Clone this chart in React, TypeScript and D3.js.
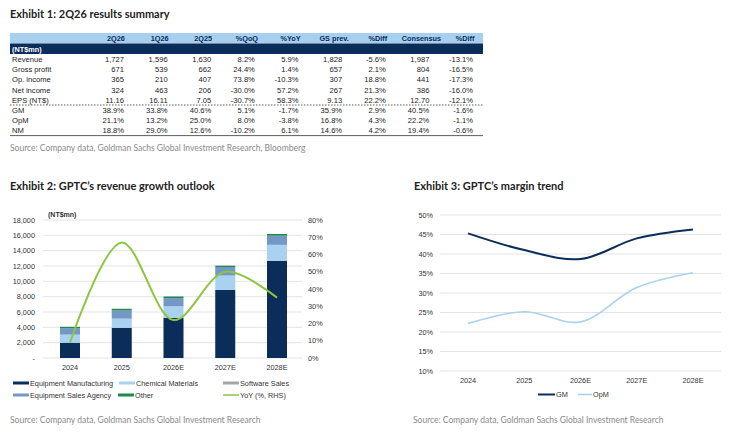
import React from 'react';
import * as d3 from 'd3';

// ---- Exhibit 1 table ----
const tableCols = ['2Q26', '1Q26', '2Q25', '%QoQ', '%YoY', 'GS prev.', '%Diff', 'Consensus', '%Diff'];
const rowLabels = ['Revenue', 'Gross profit', 'Op. income', 'Net income', 'EPS (NT$)', 'GM', 'OpM', 'NM'];
const rowValues = [
  ['1,727', '1,596', '1,630', '8.2%', '5.9%', '1,828', '-5.6%', '1,987', '-13.1%'],
  ['671', '539', '662', '24.4%', '1.4%', '657', '2.1%', '804', '-16.5%'],
  ['365', '210', '407', '73.8%', '-10.3%', '307', '18.8%', '441', '-17.3%'],
  ['324', '463', '206', '-30.0%', '57.2%', '267', '21.3%', '386', '-16.0%'],
  ['11.16', '16.11', '7.05', '-30.7%', '58.3%', '9.13', '22.2%', '12.70', '-12.1%'],
  ['38.9%', '33.8%', '40.6%', '5.1%', '-1.7%', '35.9%', '2.9%', '40.5%', '-1.6%'],
  ['21.1%', '13.2%', '25.0%', '8.0%', '-3.8%', '16.8%', '4.3%', '22.2%', '-1.1%'],
  ['18.8%', '29.0%', '12.6%', '-10.2%', '6.1%', '14.6%', '4.2%', '19.4%', '-0.6%'],
];

// ---- Exhibit 2 ----
const years = ['2024', '2025', '2026E', '2027E', '2028E'];
const equipMfg = [1990, 3940, 5240, 8870, 12690];
const chemMat = [1040, 1170, 1480, 1870, 2050];
const softwareSales = [20, 20, 20, 20, 20];
const salesAgency = [840, 1070, 1060, 1110, 1200];
const other = [180, 220, 220, 170, 220];
const yoy = [9, 67, 22, 50, 35];
const revTicks = [0, 2000, 4000, 6000, 8000, 10000, 12000, 14000, 16000, 18000];
const pctTicks = [0, 10, 20, 30, 40, 50, 60, 70, 80];

// ---- Exhibit 3 ----
const gm = [45.3, 41.0, 38.7, 44.0, 46.3];
const opm = [22.2, 25.2, 22.6, 31.4, 35.2];
const marginTicks = [10, 15, 20, 25, 30, 35, 40, 45, 50];

const C = {
  navy: '#0b2d59',
  light: '#a8d2f0',
  gray: '#a6a6a6',
  mid: '#7397c6',
  green: '#1b8a4a',
  lime: '#8cc63f',
  grid: '#dcdcdc',
  text: '#333',
  src: '#8a8a8a',
};

const arial = 'Liberation Sans, Arial, sans-serif';
const humanist = 'Lato, "Open Sans", sans-serif';

const segKeys = ['mfg', 'chem', 'soft', 'agency', 'other'];
const segColors: Record<string, string> = {
  mfg: C.navy,
  chem: C.light,
  soft: C.gray,
  agency: C.mid,
  other: C.green,
};

const App: React.FC = () => {
  // table scales
  const colRight = d3.scalePoint<number>().domain(d3.range(tableCols.length)).range([124, 473]);
  const rowY = d3.scaleLinear().domain([0, 8]).range([54, 135.6]);
  const rowH = rowY(1) - rowY(0);

  // exhibit 2 scales
  const x2 = d3.scalePoint<string>().domain(years).range([70, 277]);
  const yRev = d3.scaleLinear().domain([0, 18000]).range([358, 220]);
  const yPct = d3.scaleLinear().domain([0, 80]).range([358, 220]);
  const barW = 20;

  const stackData = years.map((y, i) => ({
    year: y,
    mfg: equipMfg[i],
    chem: chemMat[i],
    soft: softwareSales[i],
    agency: salesAgency[i],
    other: other[i],
  }));
  const series = d3.stack<any>().keys(segKeys)(stackData);

  const yoyLine = d3
    .line<number>()
    .x((_, i) => x2(years[i]) as number)
    .y(d => yPct(d))
    .curve(d3.curveCatmullRom.alpha(0.5));

  // exhibit 3 scales
  const x3 = d3.scalePoint<string>().domain(years).range([468, 693]);
  const yM = d3.scaleLinear().domain([10, 50]).range([371, 215]);
  const mLine = d3
    .line<number>()
    .x((_, i) => x3(years[i]) as number)
    .y(d => yM(d))
    .curve(d3.curveCatmullRom.alpha(0.5));

  const legend2 = [
    { label: 'Equipment Manufacturing', color: C.navy, x: 13, y: 383, thin: false },
    { label: 'Chemical Materials', color: C.light, x: 119, y: 383, thin: false },
    { label: 'Software Sales', color: C.gray, x: 223, y: 383, thin: false },
    { label: 'Equipment Sales Agency', color: C.mid, x: 13, y: 395, thin: false },
    { label: 'Other', color: C.green, x: 118, y: 395, thin: false },
    { label: 'YoY (%, RHS)', color: C.lime, x: 223, y: 395, thin: true },
  ];

  return (
    <svg
      width={740}
      height={436}
      style={{ position: 'absolute', left: 0, top: 0, background: '#fff' }}
    >
      {/* ===== Exhibit 1 ===== */}
      <text x={10} y={18} fontFamily={humanist} fontWeight={700} fontSize={11} fill="#222">
        Exhibit 1: 2Q26 results summary
      </text>
      <rect x={10} y={33} width={473} height={10.5} fill="#a8cfee" />
      <rect x={10} y={43.5} width={473} height={10.5} fill={C.navy} />
      {tableCols.map((c, i) => (
        <text
          key={'h' + i}
          x={(colRight(i) as number) - 8}
          y={41.3}
          textAnchor="middle"
          fontFamily={arial}
          fontWeight={700}
          fontSize={7.3}
          fill={C.navy}
        >
          {c}
        </text>
      ))}
      <text x={12} y={51.8} fontFamily={arial} fontWeight={700} fontSize={7.3} fill="#fff">
        (NT$mn)
      </text>
      {rowLabels.map((r, ri) => (
        <g key={'r' + ri}>
          <text x={12} y={rowY(ri) + rowH / 2 + 2.8} fontFamily={arial} fontSize={7.6} fill="#222">
            {r}
          </text>
          {rowValues[ri].map((v, ci) => (
            <text
              key={ci}
              x={colRight(ci) as number}
              y={rowY(ri) + rowH / 2 + 2.8}
              textAnchor="end"
              fontFamily={arial}
              fontSize={7.6}
              fill="#222"
            >
              {v}
            </text>
          ))}
        </g>
      ))}
      <line x1={10} x2={483} y1={rowY(5)} y2={rowY(5)} stroke="#333" strokeWidth={0.8} strokeDasharray="1.5,1.5" />
      <line x1={10} x2={483} y1={rowY(8)} y2={rowY(8)} stroke="#333" strokeWidth={0.8} />
      <text x={10} y={151} fontFamily={humanist} fontSize={8.5} fill={C.src}>
        Source: Company data, Goldman Sachs Global Investment Research, Bloomberg
      </text>

      {/* ===== Exhibit 2 ===== */}
      <text x={10} y={190} fontFamily={humanist} fontWeight={700} fontSize={11} fill="#222">
        Exhibit 2: GPTC’s revenue growth outlook
      </text>
      <text x={48} y={216.5} fontFamily={arial} fontWeight={700} fontSize={7} fill={C.text}>
        (NT$mn)
      </text>
      {revTicks.map(t => (
        <g key={'rt' + t}>
          <line x1={43} x2={302} y1={yRev(t)} y2={yRev(t)} stroke={C.grid} strokeWidth={0.8} />
          <text
            x={35}
            y={yRev(t) + 2.6}
            textAnchor="end"
            fontFamily={arial}
            fontSize={7.3}
            fill={C.text}
          >
            {t === 0 ? '-' : d3.format(',')(t)}
          </text>
        </g>
      ))}
      {pctTicks.map(t => (
        <text key={'pt' + t} x={308} y={yPct(t) + 2.6} fontFamily={arial} fontSize={7.3} fill={C.text}>
          {t}%
        </text>
      ))}
      {series.map(s => (
        <g key={s.key} fill={segColors[s.key]}>
          {s.map((d, i) => (
            <rect
              key={i}
              x={(x2(years[i]) as number) - barW / 2}
              y={yRev(d[1])}
              width={barW}
              height={Math.max(0, yRev(d[0]) - yRev(d[1]))}
            />
          ))}
        </g>
      ))}
      <path d={yoyLine(yoy) || ''} fill="none" stroke={C.lime} strokeWidth={2} />
      {years.map(y => (
        <text
          key={'x2' + y}
          x={x2(y) as number}
          y={369.5}
          textAnchor="middle"
          fontFamily={arial}
          fontSize={7.3}
          fill={C.text}
        >
          {y}
        </text>
      ))}
      {legend2.map(l => (
        <g key={l.label}>
          <line
            x1={l.x}
            x2={l.x + 16}
            y1={l.y}
            y2={l.y}
            stroke={l.color}
            strokeWidth={l.thin ? 1.5 : 3}
          />
          <text x={l.x + 17} y={l.y + 2.6} fontFamily={arial} fontSize={7.3} fill={C.text}>
            {l.label}
          </text>
        </g>
      ))}
      <text x={10} y={423} fontFamily={humanist} fontSize={8.5} fill={C.src}>
        Source: Company data, Goldman Sachs Global Investment Research
      </text>

      {/* ===== Exhibit 3 ===== */}
      <text x={414} y={190} fontFamily={humanist} fontWeight={700} fontSize={11} fill="#222">
        Exhibit 3: GPTC’s margin trend
      </text>
      {marginTicks.map(t => (
        <g key={'mt' + t}>
          <line x1={440} x2={721} y1={yM(t)} y2={yM(t)} stroke={C.grid} strokeWidth={0.8} />
          <text
            x={433}
            y={yM(t) + 2.6}
            textAnchor="end"
            fontFamily={arial}
            fontSize={7.3}
            fill={C.text}
          >
            {t}%
          </text>
        </g>
      ))}
      <path d={mLine(gm) || ''} fill="none" stroke={C.navy} strokeWidth={2} />
      <path d={mLine(opm) || ''} fill="none" stroke={C.light} strokeWidth={1.6} />
      {years.map(y => (
        <text
          key={'x3' + y}
          x={x3(y) as number}
          y={383}
          textAnchor="middle"
          fontFamily={arial}
          fontSize={7.3}
          fill={C.text}
        >
          {y}
        </text>
      ))}
      <line x1={538} x2={555} y1={394.5} y2={394.5} stroke={C.navy} strokeWidth={2} />
      <text x={556} y={397} fontFamily={arial} fontSize={7.3} fill={C.text}>
        GM
      </text>
      <line x1={578} x2={592} y1={394.5} y2={394.5} stroke={C.light} strokeWidth={1.6} />
      <text x={593} y={397} fontFamily={arial} fontSize={7.3} fill={C.text}>
        OpM
      </text>
      <text x={413} y={423} fontFamily={humanist} fontSize={8.5} fill={C.src}>
        Source: Company data, Goldman Sachs Global Investment Research
      </text>
    </svg>
  );
};

export default App;
